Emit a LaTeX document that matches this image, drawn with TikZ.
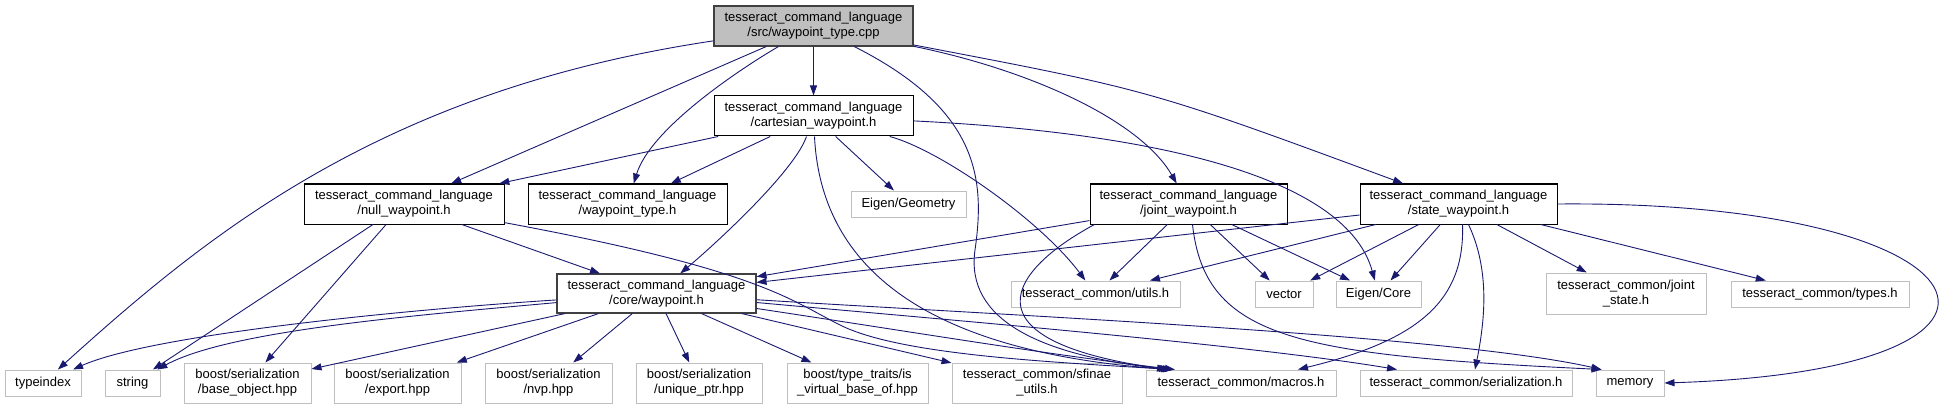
\documentclass[tikz,border=0pt]{standalone}
\usepackage{fontspec}
\setmainfont{Liberation Sans}
\usetikzlibrary{arrows.meta}
\definecolor{edgeblue}{HTML}{191970}
\definecolor{boxgray}{HTML}{BFBFBF}
\definecolor{darkborder}{HTML}{404040}
\begin{document}
\begin{tikzpicture}[x=1pt,y=-1pt,
  box/.style={rectangle, inner sep=0pt, align=center, font=\fontsize{13}{15}\selectfont},
  localbox/.style={box, draw=black, line width=1pt},
  sysbox/.style={box, draw=boxgray, line width=1pt},
  rootbox/.style={box, draw=darkborder, line width=1.1pt, fill=boxgray},
  corebox/.style={box, draw=darkborder, line width=1.1pt},
  edge/.style={draw=edgeblue, line width=0.9pt, -{Triangle[length=10pt,width=7pt]}},
]
\useasboundingbox (0,0) rectangle (1947,409);

% local headers
\node[rootbox, minimum width=199pt, minimum height=40pt] (root) at (813.5,26) {tesseract\_command\_language\\/src/waypoint\_type.cpp};
\node[localbox, minimum width=199pt, minimum height=40pt] (cart) at (813.5,116) {tesseract\_command\_language\\/cartesian\_waypoint.h};
\node[localbox, minimum width=200pt, minimum height=40pt] (null) at (404,204) {tesseract\_command\_language\\/null\_waypoint.h};
\node[localbox, minimum width=199pt, minimum height=40pt] (wtype) at (627.5,204) {tesseract\_command\_language\\/waypoint\_type.h};
\node[localbox, minimum width=197pt, minimum height=40pt] (joint) at (1188.5,204) {tesseract\_command\_language\\/joint\_waypoint.h};
\node[localbox, minimum width=197pt, minimum height=40pt] (state) at (1458.5,204) {tesseract\_command\_language\\/state\_waypoint.h};
\node[corebox, minimum width=199pt, minimum height=39pt] (core) at (656.5,293.5) {tesseract\_command\_language\\/core/waypoint.h};

% system headers
\node[sysbox, minimum width=115pt, minimum height=26pt] (geom) at (908.5,204) {Eigen/Geometry};
\node[sysbox, minimum width=169pt, minimum height=26pt] (utils) at (1095.5,294) {tesseract\_common/utils.h};
\node[sysbox, minimum width=58pt, minimum height=26pt] (vector) at (1284,294) {vector};
\node[sysbox, minimum width=85pt, minimum height=26pt] (ecore) at (1378.5,294) {Eigen/Core};
\node[sysbox, minimum width=160pt, minimum height=41pt] (jstate) at (1626,293.5) {tesseract\_common/joint\\\_state.h};
\node[sysbox, minimum width=178pt, minimum height=26pt] (types) at (1820,294) {tesseract\_common/types.h};
\node[sysbox, minimum width=76pt, minimum height=26pt] (typeindex) at (43,383) {typeindex};
\node[sysbox, minimum width=55pt, minimum height=26pt] (string) at (132.5,383) {string};
\node[sysbox, minimum width=127pt, minimum height=40pt] (baseobj) at (247.5,383) {boost/serialization\\/base\_object.hpp};
\node[sysbox, minimum width=127pt, minimum height=40pt] (export) at (397.5,383) {boost/serialization\\/export.hpp};
\node[sysbox, minimum width=127pt, minimum height=40pt] (nvp) at (548.5,383) {boost/serialization\\/nvp.hpp};
\node[sysbox, minimum width=126pt, minimum height=40pt] (uptr) at (699,383) {boost/serialization\\/unique\_ptr.hpp};
\node[sysbox, minimum width=141pt, minimum height=40pt] (isvirt) at (857.5,383) {boost/type\_traits/is\\\_virtual\_base\_of.hpp};
\node[sysbox, minimum width=170pt, minimum height=40pt] (sfinae) at (1037,383) {tesseract\_common/sfinae\\\_utils.h};
\node[sysbox, minimum width=190pt, minimum height=26pt] (macros) at (1241,383) {tesseract\_common/macros.h};
\node[sysbox, minimum width=212pt, minimum height=26pt] (serial) at (1466,383) {tesseract\_common/serialization.h};
\node[sysbox, minimum width=68pt, minimum height=26pt] (memory) at (1630,383) {memory};

% edges from root
\draw[edge] (root) .. controls (384,90) and (210,232) .. (typeindex);
\draw[edge] (root) -- (null);
\draw[edge] (root) .. controls (735,72) and (650,130) .. (wtype);
\draw[edge] (root) -- (cart);
\draw[edge] (root) .. controls (980,110) and (985,180) .. (975,250) .. controls (965,320) and (1040,355) .. ([xshift=-72pt]macros.north);
\draw[edge] (root) .. controls (1030,70) and (1140,120) .. (joint);
\draw[edge] (root) .. controls (1150,90) .. (state);

% edges from cartesian
\draw[edge] (cart) -- (null);
\draw[edge] (cart) -- (wtype);
\draw[edge] (cart) .. controls (795,170) and (720,240) .. (core);
\draw[edge] (cart) .. controls (820,250) and (900,350) .. ([xshift=-70pt]macros.north);
\draw[edge] (cart) -- (geom);
\draw[edge] (cart) .. controls (940,150) and (1040,220) .. (utils);
\draw[edge] (cart) .. controls (1200,135) and (1350,190) .. (ecore);

% edges from null
\draw[edge] (null) -- (core);
\draw[edge] (null) -- (string);
\draw[edge] (null) -- (baseobj);
\draw[edge] (null) .. controls (760,270) and (790,300) .. (840,325) .. controls (900,355) and (1050,362) .. ([xshift=-68pt]macros.north);

% edges from core
\draw[edge] (core) .. controls (400,310) and (150,335) .. (typeindex);
\draw[edge] (core) .. controls (420,315) and (230,330) .. (string);
\draw[edge] (core) -- (baseobj);
\draw[edge] (core) -- (export);
\draw[edge] (core) -- (nvp);
\draw[edge] (core) -- (uptr);
\draw[edge] (core) -- (isvirt);
\draw[edge] (core) -- (sfinae);
\draw[edge] (core) .. controls (900,330) and (1050,355) .. ([xshift=-66pt]macros.north);
\draw[edge] (core) .. controls (950,320) and (1250,345) .. ([xshift=-69pt]serial.north);
\draw[edge] (core) .. controls (1000,315) and (1450,335) .. ([xshift=6pt]memory.north west);

% edges from joint
\draw[edge] (joint) -- (core);
\draw[edge] (joint) -- (utils);
\draw[edge] (joint) -- (vector);
\draw[edge] (joint) -- (ecore);
\draw[edge] ([xshift=-94pt]joint.south) .. controls (1010,270) and (960,340) .. ([xshift=-74pt]macros.north);
\draw[edge] ([xshift=4pt]joint.south) .. controls (1205,340) and (1300,355) .. ([xshift=6pt]memory.north west);

% edges from state
\draw[edge] (state) -- (core);
\draw[edge] (state) -- (utils);
\draw[edge] (state) -- (vector);
\draw[edge] (state) -- (ecore);
\draw[edge] ([xshift=4pt]state.south) .. controls (1465,300) and (1420,340) .. ([xshift=57pt]macros.north);
\draw[edge] ([xshift=10pt]state.south) .. controls (1490,270) and (1485,320) .. ([xshift=9pt]serial.north);
\draw[edge] (state) -- (jstate);
\draw[edge] (state) -- (types);
\draw[edge] (state.east) .. controls (2000,200) and (2080,370) .. (memory.east);
\end{tikzpicture}
\end{document}
